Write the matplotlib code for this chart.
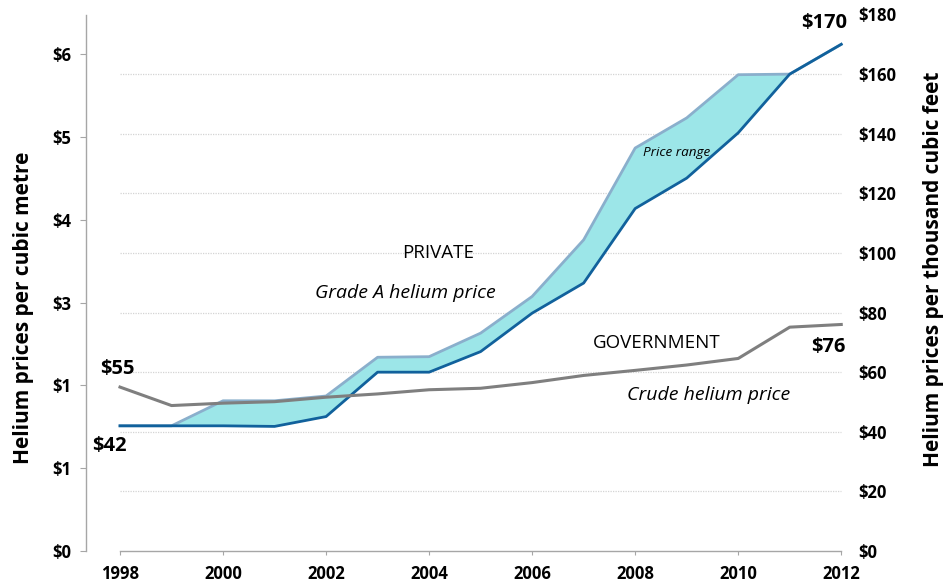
import matplotlib
matplotlib.use("Agg")
import matplotlib.pyplot as plt

# Helium prices, US dollars per thousand cubic feet
years = [1998, 1999, 2000, 2001, 2002, 2003, 2004, 2005, 2006, 2007, 2008, 2009, 2010, 2011, 2012]
private_low = [42, 42, 42, 41.8, 45.1, 60, 60, 66.9, 79.8, 89.9, 114.9, 125.1, 140.3, 160, 170]
private_high = [42, 42, 50.4, 50.4, 52, 65, 65.2, 73.1, 85.4, 104.4, 135.2, 145.3, 159.8, 160, 170]
government = [55, 48.8, 49.6, 50.1, 51.6, 52.7, 54.1, 54.6, 56.5, 58.9, 60.6, 62.4, 64.6, 75.1, 76]

right_ticks = [0, 20, 40, 60, 80, 100, 120, 140, 160, 180]
right_labels = ["$0", "$20", "$40", "$60", "$80", "$100", "$120", "$140", "$160", "$180"]
left_ticks = [0, 1, 2, 3, 4, 5, 6]
left_labels = ["$0", "$1", "$1", "$3", "$4", "$5", "$6"]
grid_levels = [20, 40, 60, 80, 100, 120, 140, 160]
year_ticks = [1998, 2000, 2002, 2004, 2006, 2008, 2010, 2012]

MCF_PER_M3 = 27.77  # dollars per thousand cubic feet for $1 per cubic metre

FONT = "Open Sans"
AXIS_GREY = "#a6a6a6"

fig = plt.figure(figsize=(9.44, 5.84), dpi=100)
ax = fig.add_axes([86 / 944, 33 / 584, 764 / 944, 536.5 / 584])

ax.set_xlim(1997.34, 2012.17)
ax.set_ylim(0, 180)

# dotted grid over the data span only
ax.hlines(grid_levels, years[0], years[-1], colors="#d4d4d4",
          linestyles=(0, (1, 1)), linewidth=0.9, zorder=1)

ax.fill_between(years, private_low, private_high, color="#9ce6e8", linewidth=0, zorder=2)
ax.plot(years, private_high, color="#8aafcc", linewidth=2.0, zorder=3)
ax.plot(years, private_low, color="#11619c", linewidth=2.0, zorder=4)
ax.plot(years, government, color="#7f7f7f", linewidth=2.2, zorder=5)

# spines
for side in ("top", "left", "right"):
    ax.spines[side].set_visible(False)
ax.spines["bottom"].set_bounds(years[0], years[-1])
ax.spines["bottom"].set_color(AXIS_GREY)
ax.spines["bottom"].set_linewidth(1.0)

tick_font = dict(fontfamily=FONT, fontweight="bold", fontsize=12)

ax.set_xticks(year_ticks)
ax.set_xticklabels([str(y) for y in year_ticks], **tick_font)
ax.tick_params(axis="x", length=3, color=AXIS_GREY, pad=7)

ax.yaxis.tick_right()
ax.set_yticks(right_ticks)
ax.set_yticklabels(right_labels, **tick_font)
ax.tick_params(axis="y", length=0, pad=6)

# cubic-metre scale on the left
sec = ax.secondary_yaxis("left", functions=(lambda v: v / MCF_PER_M3, lambda m: m * MCF_PER_M3))
sec.set_yticks(left_ticks)
sec.set_yticklabels(left_labels, **tick_font)
sec.tick_params(axis="y", length=4.5, color=AXIS_GREY, pad=6)
sec.spines["left"].set_color(AXIS_GREY)
sec.spines["left"].set_linewidth(1.0)

# value callouts
for txt, x, y in [("$55", 1997.94, 61.0), ("$42", 1997.8, 35.3),
                  ("$170", 2011.67, 177), ("$76", 2011.75, 68.5)]:
    ax.text(x, y, txt, ha="center", va="center", fontfamily=FONT,
            fontweight="bold", fontsize=14.5, zorder=6)

# series annotations
ax.text(2004.17, 100, "PRIVATE", ha="center", va="center", fontfamily=FONT, fontsize=13.5)
ax.text(2003.54, 86.6, "Grade A helium price", ha="center", va="center",
        fontfamily=FONT, fontstyle="italic", fontsize=14)
ax.text(2008.42, 69.8, "GOVERNMENT", ha="center", va="center", fontfamily=FONT, fontsize=13.5)
ax.text(2009.42, 52.4, "Crude helium price", ha="center", va="center",
        fontfamily=FONT, fontstyle="italic", fontsize=14)
ax.text(2008.81, 133.8, "Price range", ha="center", va="center",
        fontfamily=FONT, fontstyle="italic", fontsize=9.7, zorder=6)

fig.text(24 / 944, 1 - 308 / 584, "Helium prices per cubic metre", rotation=90,
         ha="center", va="center", fontfamily=FONT, fontweight="bold", fontsize=15)
fig.text(933 / 944, 1 - 269 / 584, "Helium prices per thousand cubic feet", rotation=90,
         ha="center", va="center", fontfamily=FONT, fontweight="bold", fontsize=15)

fig.savefig("out.png", dpi=100)
